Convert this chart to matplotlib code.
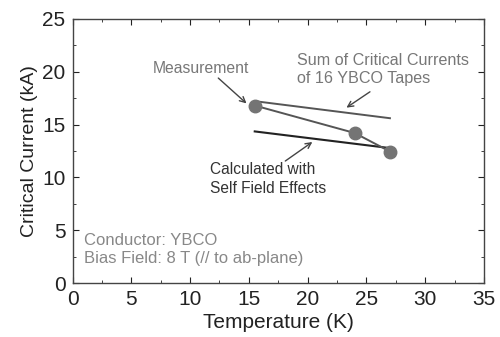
import matplotlib
matplotlib.use("Agg")
import matplotlib.pyplot as plt
from matplotlib.ticker import MultipleLocator

plt.rcParams['font.family'] = ['Liberation Sans', 'DejaVu Sans']

# Measured critical current of the conductor
meas_T = [15.5, 24.0, 27.0]
meas_Ic = [16.8, 14.2, 12.45]

# Sum of the critical currents of 16 YBCO tapes
sum_T = [15.6, 27.0]
sum_Ic = [17.2, 15.6]

# Calculation including self-field effects
calc_T = [15.5, 26.8]
calc_Ic = [14.35, 12.8]

fig = plt.figure(figsize=(5.0, 3.37), dpi=100)
ax = fig.add_axes([0.145, 0.160, 0.823, 0.784])

ax.plot(sum_T, sum_Ic, color='#555555', lw=1.4, zorder=2)
ax.plot(calc_T, calc_Ic, color='#222222', lw=1.5, zorder=2)
ax.plot(meas_T, meas_Ic, color='#555555', lw=1.4, zorder=3,
        marker='o', ms=9, mfc='#747474', mec='#747474')

ax.set_xlim(0, 35)
ax.set_ylim(0, 25)
ax.xaxis.set_major_locator(MultipleLocator(5))
ax.xaxis.set_minor_locator(MultipleLocator(2.5))
ax.yaxis.set_major_locator(MultipleLocator(5))
ax.yaxis.set_minor_locator(MultipleLocator(2.5))
ax.tick_params(which='both', direction='in', top=True, right=True,
               labelsize=15, colors='#222222')
ax.tick_params(axis='x', pad=5)
ax.tick_params(axis='y', pad=5)
ax.tick_params(which='major', length=4)
ax.tick_params(which='minor', length=2)
for s in ax.spines.values():
    s.set_color('#444444')
    s.set_linewidth(1.0)

ax.set_xlabel('Temperature (K)', fontsize=15, color='#222222', labelpad=3)
ax.set_ylabel('Critical Current (kA)', fontsize=14, color='#222222', labelpad=3)

arrow = dict(arrowstyle='->', color='#444444', lw=1.0, shrinkA=0, shrinkB=0)
ax.text(10.9, 20.3, 'Measurement', ha='center', va='center',
        fontsize=11.3, color='#777777')
ax.annotate('', xy=(14.8, 17.0), xytext=(12.4, 19.4), arrowprops=arrow)
ax.text(19.1, 20.2, 'Sum of Critical Currents\nof 16 YBCO Tapes',
        ha='left', va='center', fontsize=11.6, color='#777777', linespacing=1.3)
ax.annotate('', xy=(23.3, 16.6), xytext=(25.3, 18.1), arrowprops=arrow)
ax.text(11.7, 9.85, 'Calculated with\nSelf Field Effects',
        ha='left', va='center', fontsize=11.2, color='#333333', linespacing=1.3)
ax.annotate('', xy=(20.4, 13.35), xytext=(18.1, 11.55), arrowprops=arrow)

ax.text(0.98, 4.07, 'Conductor: YBCO', ha='left', va='center',
        fontsize=12, color='#888888')
ax.text(0.98, 2.37, 'Bias Field: 8 T (// to ab-plane)', ha='left', va='center',
        fontsize=12, color='#888888')

fig.savefig('out.png', dpi=100)
